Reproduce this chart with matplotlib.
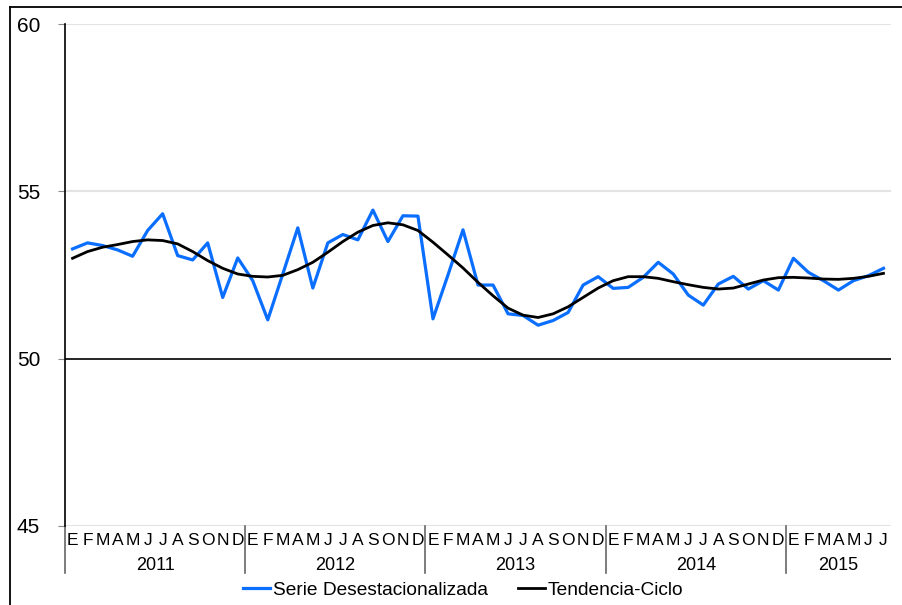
import numpy as np
import matplotlib.pyplot as plt
from matplotlib.lines import Line2D

plt.rcParams['font.family'] = ['Liberation Sans', 'DejaVu Sans']

years = ['2011', '2012', '2013', '2014', '2015']
months = ['E', 'F', 'M', 'A', 'M', 'J', 'J', 'A', 'S', 'O', 'N', 'D']
months_per_year = [12, 12, 12, 12, 7]

serie = [53.28, 53.46, 53.38, 53.25, 53.06, 53.83, 54.33, 53.08, 52.95, 53.46, 51.83, 53.01,
         52.33, 51.16, 52.53, 53.91, 52.11, 53.46, 53.71, 53.55, 54.44, 53.50, 54.27, 54.26,
         51.19, 52.50, 53.85, 52.20, 52.20, 51.34, 51.29, 51.00, 51.14, 51.38, 52.20, 52.45,
         52.10, 52.13, 52.43, 52.88, 52.53, 51.90, 51.60, 52.23, 52.46, 52.08, 52.33, 52.05,
         53.00, 52.58, 52.33, 52.05, 52.33, 52.48, 52.70]
tendencia = [53.00, 53.20, 53.33, 53.41, 53.50, 53.55, 53.53, 53.43, 53.20, 52.93, 52.70, 52.53,
             52.46, 52.44, 52.49, 52.66, 52.88, 53.18, 53.50, 53.78, 53.98, 54.06, 54.00, 53.83,
             53.48, 53.10, 52.71, 52.28, 51.88, 51.51, 51.30, 51.23, 51.34, 51.55, 51.83, 52.11,
             52.33, 52.45, 52.45, 52.40, 52.30, 52.21, 52.13, 52.08, 52.11, 52.23, 52.35, 52.42,
             52.43, 52.41, 52.38, 52.37, 52.40, 52.46, 52.55]

n = len(serie)
x = np.arange(n)

fig = plt.figure(figsize=(9.02, 6.05), dpi=100)
ax = fig.add_axes([0.0721, 0.1306, 0.9157, 0.8297])

# light grid + black line at 50
for yv in [45, 55, 60]:
    ax.axhline(yv, color='#e3e3e3', lw=1.5, zorder=0)
ax.axhline(50, color='black', lw=1.2, zorder=1)

ax.plot(x, serie, color='#0A6EFF', lw=2.3, label='Serie Desestacionalizada', zorder=3)
ax.plot(x, tendencia, color='black', lw=2.0, label='Tendencia-Ciclo', zorder=4)

ax.set_xlim(-0.5, n - 0.5)
ax.set_ylim(45, 60)
ax.set_yticks([45, 50, 55, 60])
ax.tick_params(axis='y', length=5, color='#888888', pad=13, labelsize=15)
for s in ['top', 'right', 'bottom']:
    ax.spines[s].set_visible(False)
ax.spines['left'].set_linewidth(1.2)
ax.set_xticks([])

# month and year labels
trans = ax.get_xaxis_transform()
pos = 0
bounds = [0]
for yr, cnt in zip(years, months_per_year):
    for k in range(cnt):
        ax.text(pos + k, -0.029, months[k], transform=trans, ha='center', va='center',
                fontsize=12.5, clip_on=False)
    ax.text(pos + 6 - 0.5 if cnt == 12 else pos + cnt / 2 - 0.5, -0.079, yr,
            transform=trans, ha='center', va='center', fontsize=13, clip_on=False)
    pos += cnt
    bounds.append(pos)
for b in bounds[:-1]:
    ax.plot([b - 0.5, b - 0.5], [0, -0.093], transform=trans, color='#666666', lw=1.2,
            clip_on=False)

ax.legend(loc='center', bbox_to_anchor=(0.482, -0.1275), ncol=2, frameon=False,
          fontsize=13.8, handlelength=1.4, handletextpad=0.15, columnspacing=1.55,
          borderpad=0.1)

# outer frame (left and top)
fig.add_artist(Line2D([0.0111, 0.0111], [0.0, 0.9884], color='black', lw=1.3))
fig.add_artist(Line2D([0.0111, 1.0], [0.9884, 0.9884], color='black', lw=1.3))

fig.savefig('out.png', dpi=100)
